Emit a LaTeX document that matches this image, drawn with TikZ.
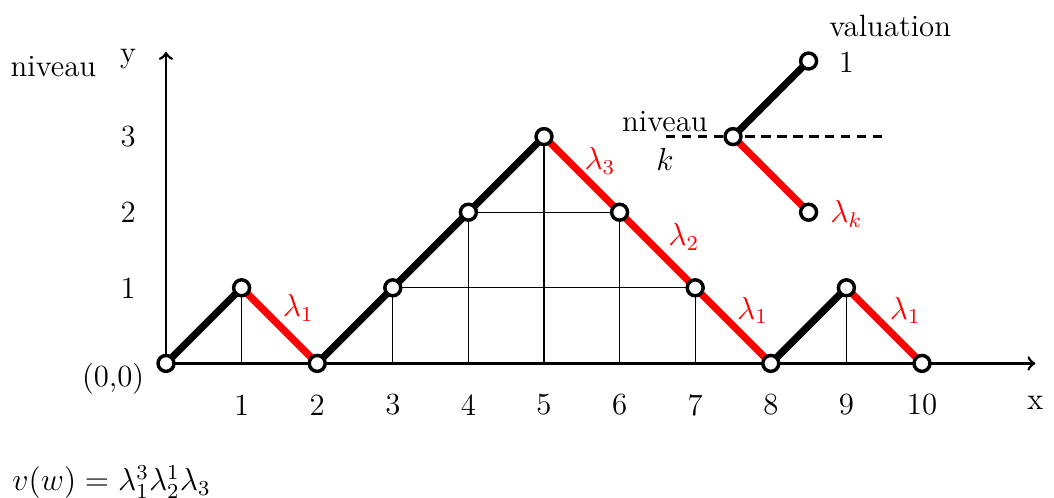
\documentclass[tikz,border=0pt]{standalone}
\begin{document}
\begin{tikzpicture}[x=1cm,y=1cm,
  every node/.style={font=\fontsize{11.6}{14}\selectfont},
  pt/.style={circle,draw=black,fill=white,line width=1.3pt,minimum size=6pt,inner sep=0pt},
  up/.style={line width=2.7pt,black},
  down/.style={line width=2.7pt,red},
  grid/.style={line width=0.5pt},
  axis/.style={line width=1pt,->},
  lab/.style={text=red}]
\useasboundingbox (-2.196,-1.78) rectangle (11.746,4.807);
% coordinates
\coordinate (o) at (0,0);
\coordinate (xe) at (11.5,0);
\coordinate (ye) at (0,4.12);
\foreach \i in {1,3,4,5,6,7,9} {\coordinate (b\i) at (\i,0);}
% grid lines
\draw[grid] (b1) -- (1,1);
\draw[grid] (b3) -- (3,1);
\draw[grid] (b4) -- (4,2);
\draw[grid] (b5) -- (5,3);
\draw[grid] (b6) -- (6,2);
\draw[grid] (b7) -- (7,1);
\draw[grid] (b9) -- (9,1);
\draw[grid] (3,1) -- (7,1);
\draw[grid] (4,2) -- (6,2);
% axes
\draw[axis] (o) -- (xe);
\draw[axis] (o) -- (ye);
% path
\draw[up] (0,0) -- (1,1);
\draw[down] (1,1) -- (2,0);
\draw[up] (2,0) -- (5,3);
\draw[down] (5,3) -- (8,0);
\draw[up] (8,0) -- (9,1);
\draw[down] (9,1) -- (10,0);
\foreach \x/\y/\n in {0/0/p0,1/1/p1,2/0/p2,3/1/p3,4/2/p4,5/3/p5,6/2/p6,7/1/p7,8/0/p8,9/1/p9,10/0/p10}
  {\node[pt] (\n) at (\x,\y) {};}
% labels
\node[lab] (l1) at (1.75,0.73) {$\lambda_1$};
\node[lab] (l3) at (5.74,2.68) {$\lambda_3$};
\node[lab] (l2) at (6.85,1.67) {$\lambda_2$};
\node[lab] (l4) at (7.76,0.70) {$\lambda_1$};
\node[lab] (l5) at (9.78,0.70) {$\lambda_1$};
% tick labels
\foreach \i in {1,...,10} {\node (tx\i) at (\i,-0.55) {\i};}
\foreach \j in {1,2,3} {\node (ty\j) at (-0.5,\j) {\j};}
\node (xl) at (11.5,-0.52) {x};
\node (yl) at (-0.5,4.02) {y};
\node (nv) at (-1.49,3.92) {niveau};
\node (orig) at (-0.7,-0.21) {(0,0)};
\node (vw) at (-0.72,-1.57) {$v(w)=\lambda_1^3\lambda_2^1\lambda_3$};
% inset
\coordinate (dl) at (6.61,3);
\coordinate (dr) at (9.47,3);
\draw[line width=0.9pt,dash pattern=on 3.5pt off 2.5pt] (dl) -- (dr);
\draw[up] (7.5,3) -- (8.5,4);
\draw[down] (7.5,3) -- (8.5,2);
\node[pt] (ic) at (7.5,3) {};
\node[pt] (iu) at (8.5,4) {};
\node[pt] (id) at (8.5,2) {};
\node (nk) at (6.6,3.2) {niveau};
\node (kk) at (6.6,2.7) {$k$};
\node (val) at (9.58,4.47) {valuation};
\node (one) at (9.0,3.98) {1};
\node[lab] (lk) at (9.0,1.98) {$\lambda_k$};
\end{tikzpicture}
\end{document}
